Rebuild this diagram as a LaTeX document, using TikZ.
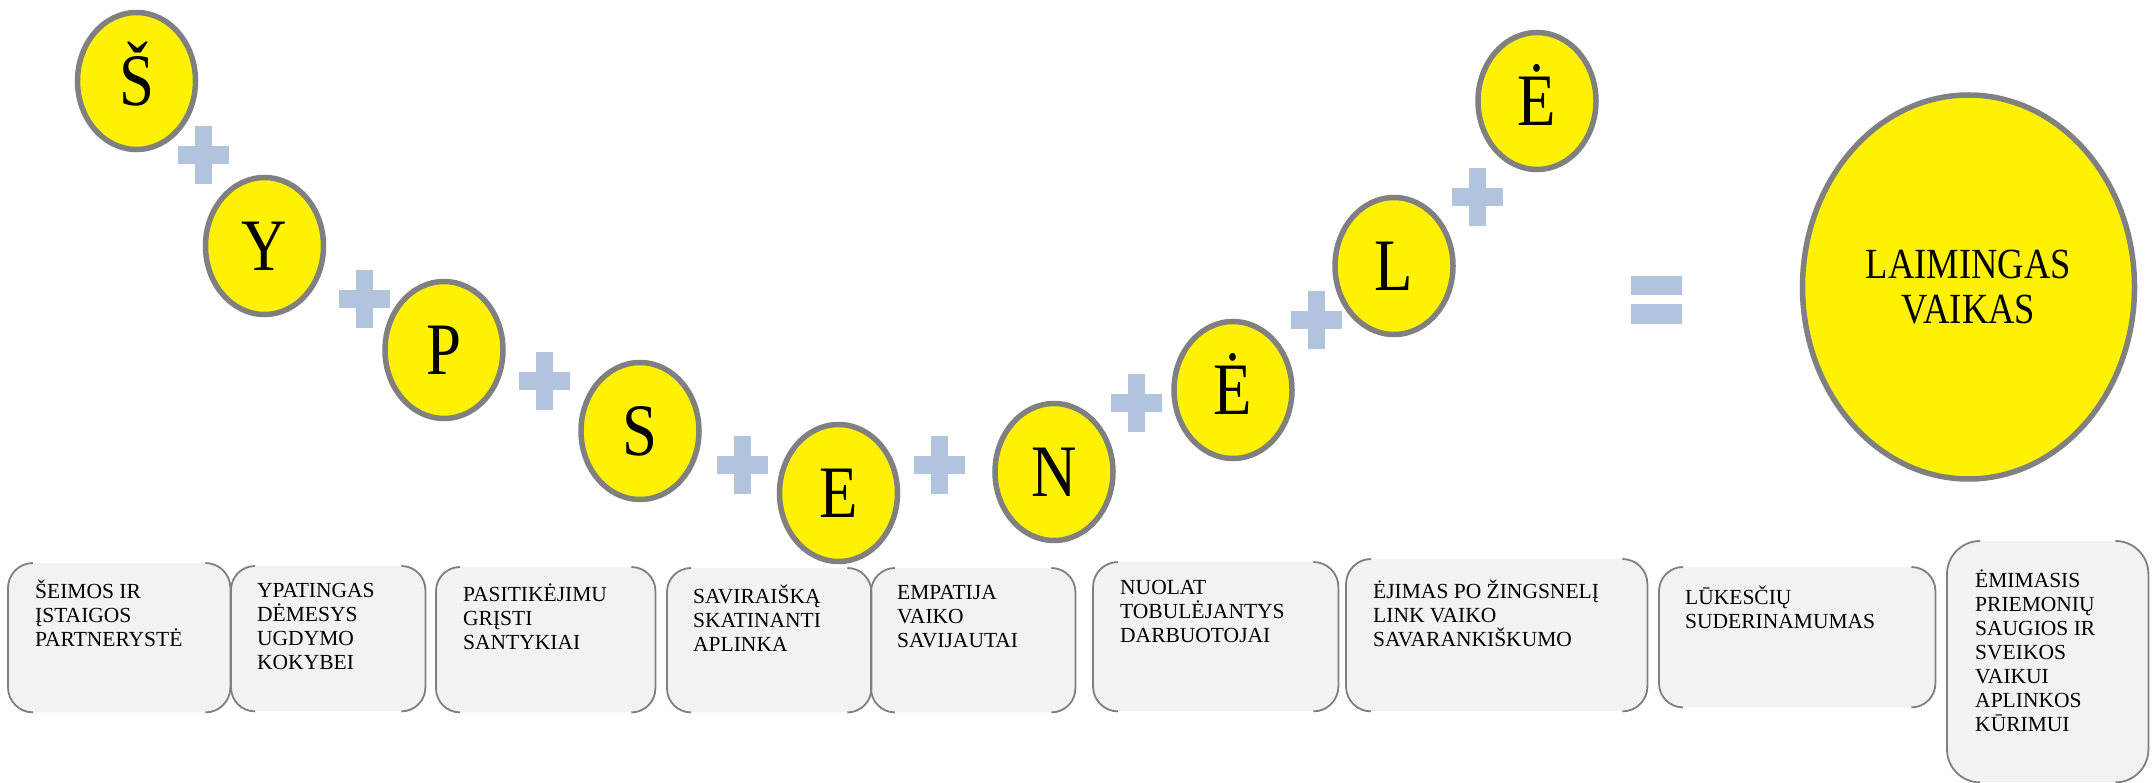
\documentclass[tikz,border=0pt]{standalone}
\usepackage{fontspec}
\setmainfont{Liberation Serif}
\newfontfamily\narrowserif[FakeStretch=0.85]{Liberation Serif}
\usetikzlibrary{positioning,shapes.geometric}
\definecolor{ringgray}{RGB}{128,128,128}
\definecolor{plusblue}{RGB}{178,195,222}
\definecolor{cardfill}{RGB}{242,242,242}
\definecolor{bracketgray}{RGB}{127,127,127}

\begin{document}
\begin{tikzpicture}[x=1pt,y=-1pt,
	ring/.style={ellipse,draw=ringgray,line width=5.5pt,fill=yellow,inner sep=0pt},
	letter/.style={ring,minimum width=118pt,minimum height=137pt,font=\narrowserif\fontsize{74}{80}\selectfont,text height=49pt,text depth=0pt},
	card/.style={rectangle,fill=cardfill,rounded corners=#1,anchor=north west,inner sep=0pt},
	cardtext/.style={align=left,inner sep=0pt,font=\fontsize{21.5}{24}\selectfont,execute at begin node=\rule{0pt}{19.5pt}},
	bracket/.style={draw=bracketgray,line width=1.8pt,rounded corners=#1},
	plus/.pic={\fill[plusblue] (-25.5,-9) rectangle (25.5,9); \fill[plusblue] (-8.5,-29) rectangle (8.5,29);}]

	\useasboundingbox (0,0) rectangle (2154,783);

	% letters along the curve
	\node[letter] (sh) at (136.5,81) {Š};
	\node[letter] (y) at (264.5,246) {Y};
	\node[letter] (p) at (444,350) {P};
	\node[letter] (s) at (640,431) {S};
	\node[letter] (e) at (838.5,493) {E};
	\node[letter] (n) at (1054,472) {N};
	\node[letter] (edot) at (1233,390) {Ė};
	\node[letter] (l) at (1394,266) {L};
	\node[letter] (edottop) at (1537,101) {Ė};

	\pic at (203,155.5) {plus};
	\pic at (364.5,299) {plus};
	\pic at (544,381) {plus};
	\pic at (742,465) {plus};
	\pic at (939,465) {plus};
	\pic at (1136,403) {plus};
	\pic at (1316,320) {plus};
	\pic at (1477,197) {plus};

	\fill[plusblue] (1631,276) rectangle (1682,295);
	\fill[plusblue] (1631,304) rectangle (1682,324);

	\node[ring, minimum width=332pt, minimum height=384pt, align=center, font=\narrowserif\fontsize{43}{45}\selectfont] (happy) at (1968.5,287) {LAIMINGAS\\VAIKAS};

	% cards below
	\node[card=25pt, minimum width=222pt, minimum height=149pt] (b1) at (8,563) {};
	\node[card=24pt, minimum width=194pt, minimum height=145pt] (b2) at (231,566) {};
	\node[card=24pt, minimum width=219pt, minimum height=145pt] (b3) at (436,567) {};
	\node[card=24pt, minimum width=204pt, minimum height=144pt] (b4) at (667,568) {};
	\node[card=24pt, minimum width=204pt, minimum height=144pt] (b5) at (871,568) {};
	\node[card=25pt, minimum width=245pt, minimum height=149pt] (b6) at (1093,562) {};
	\node[card=25pt, minimum width=301pt, minimum height=152pt] (b7) at (1346,559) {};
	\node[card=24pt, minimum width=276pt, minimum height=140pt] (b8) at (1659,567) {};
	\node[card=33pt, minimum width=201pt, minimum height=241pt] (b9) at (1947,541) {};

	\foreach \b/\r in {b1/25,b2/24,b3/24,b4/24,b5/24,b6/25,b7/25,b8/24,b9/33}{
		\draw[bracket=\r pt] ([xshift=\r pt]\b.north west) -| (\b.south west) -- ([xshift=\r pt]\b.south west);
		\draw[bracket=\r pt] ([xshift=-\r pt]\b.north east) -| (\b.south east) -- ([xshift=-\r pt]\b.south east);
	}

	\node[cardtext, below right=17pt and 27pt of b1.north west] (t1) {ŠEIMOS IR\\ĮSTAIGOS\\PARTNERYSTĖ};
	\node[cardtext, below right=17pt and 26pt of b2.north west] (t2) {YPATINGAS\\DĖMESYS\\UGDYMO\\KOKYBEI};
	\node[cardtext, below right=17pt and 27pt of b3.north west] (t3) {PASITIKĖJIMU\\GRĮSTI\\SANTYKIAI};
	\node[cardtext, below right=17pt and 26pt of b4.north west] (t4) {SAVIRAIŠKĄ\\SKATINANTI\\APLINKA};
	\node[cardtext, below right=17pt and 26pt of b5.north west] (t5) {EMPATIJA\\VAIKO\\SAVIJAUTAI};
	\node[cardtext, below right=18pt and 27pt of b6.north west] (t6) {NUOLAT\\TOBULĖJANTYS\\DARBUOTOJAI};
	\node[cardtext, below right=21pt and 27pt of b7.north west] (t7) {ĖJIMAS PO ŽINGSNELĮ\\LINK VAIKO\\SAVARANKIŠKUMO};
	\node[cardtext, below right=19pt and 26pt of b8.north west] (t8) {LŪKESČIŲ\\SUDERINAMUMAS};
	\node[cardtext, below right=29pt and 28pt of b9.north west] (t9) {ĖMIMASIS\\PRIEMONIŲ\\SAUGIOS IR\\SVEIKOS\\VAIKUI\\APLINKOS\\KŪRIMUI};

\end{tikzpicture}
\end{document}
